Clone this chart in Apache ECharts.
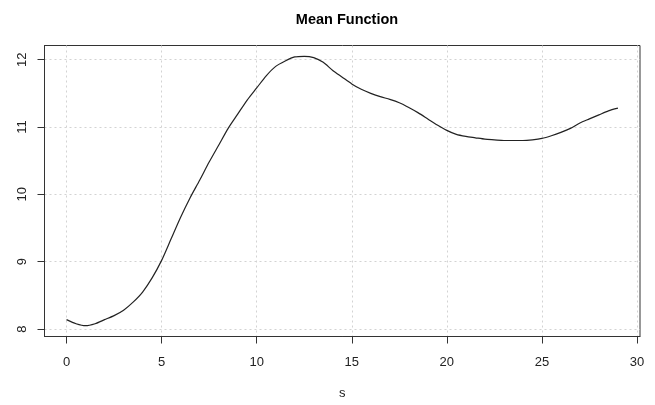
<!DOCTYPE html>
<html lang="en">
<head>
    <meta charset="UTF-8">
    <title>Mean Function</title>
    <script type="text/javascript" src="https://cdn.jsdelivr.net/npm/echarts@6/dist/echarts.min.js"></script>
    <style>
        html, body { margin: 0; padding: 0; background: #fff; }
        #main { width: 655px; height: 405px; }
    </style>
</head>
<body>
<div id="main"></div>
<script type="text/javascript">
    // values
    var s = [0, 0.5, 1, 1.5, 2, 2.5, 3, 3.5, 4, 4.5, 5, 5.5, 6, 6.5, 7, 7.5, 8, 8.5, 9, 9.5,
        10, 10.5, 11, 11.5, 12, 12.5, 13, 13.5, 14, 14.5, 15, 15.5, 16, 16.5, 17, 17.5, 18, 18.5, 19, 19.5,
        20, 20.5, 21, 21.5, 22, 22.5, 23, 23.5, 24, 24.5, 25, 25.5, 26, 26.5, 27, 27.5, 28, 28.5, 29];
    var meanValues = [8.14, 8.08, 8.05, 8.08, 8.14, 8.20, 8.28, 8.40, 8.55, 8.76,
        9.02, 9.34, 9.66, 9.95, 10.21, 10.48, 10.73, 10.98, 11.19, 11.40,
        11.58, 11.76, 11.90, 11.98, 12.04, 12.05, 12.03, 11.96, 11.84, 11.74,
        11.64, 11.56, 11.50, 11.45, 11.41, 11.36, 11.29, 11.21, 11.12, 11.03,
        10.95, 10.89, 10.86, 10.84, 10.82, 10.81, 10.80, 10.80, 10.80, 10.81,
        10.83, 10.87, 10.92, 10.98, 11.06, 11.12, 11.18, 11.24, 11.28];
    var xTicks = [0, 5, 10, 15, 20, 25, 30];
    var yTicks = [8, 9, 10, 11, 12];

    // R style axis range: data range stretched by 4% on each side
    function padRange(arr) {
        var lo = Math.min.apply(null, arr), hi = Math.max.apply(null, arr);
        var d = (hi - lo) * 0.04;
        return [lo - d, hi + d];
    }
    var xr = padRange(s), yr = padRange(meanValues);

    var points = s.map(function (v, i) { return [v, meanValues[i]]; });

    var font = '"Liberation Sans", Arial, Helvetica, sans-serif';
    var dotted = { show: true, lineStyle: { color: '#d3d3d3', type: [2, 3], width: 1 } };

    const myChart = echarts.init(document.getElementById('main'), null, { renderer: 'canvas' });
    myChart.setOption({
        animation: false,
        title: {
            text: 'Mean Function',
            left: 342, top: 7, textAlign: 'center',
            textStyle: { fontFamily: font, fontSize: 14.5, fontWeight: 'bold', color: '#000' }
        },
        grid: {
            left: 44.5, right: 15, top: 45.5, bottom: 68.5,
            outerBoundsMode: 'none', containLabel: false,
            show: true, borderColor: '#333', borderWidth: 1, backgroundColor: 'transparent'
        },
        xAxis: {
            type: 'value', min: xr[0], max: xr[1],
            name: 's', nameLocation: 'middle', nameGap: 50,
            nameTextStyle: { fontFamily: font, fontSize: 13, color: '#222' },
            axisLine: { show: true, onZero: false, lineStyle: { color: '#333' } },
            axisTick: { show: true, length: 7, customValues: xTicks, lineStyle: { color: '#333' } },
            axisLabel: { customValues: xTicks, margin: 19, fontFamily: font, fontSize: 13, color: '#222' },
            splitLine: dotted
        },
        yAxis: {
            type: 'value', min: yr[0], max: yr[1],
            axisLine: { show: true, onZero: false, lineStyle: { color: '#333' } },
            axisTick: { show: true, length: 7, customValues: yTicks, lineStyle: { color: '#333' } },
            axisLabel: { customValues: yTicks, rotate: 90, margin: 16, fontFamily: font, fontSize: 13, color: '#222' },
            splitLine: dotted
        },
        series: [{
            type: 'line',
            data: points,
            showSymbol: false,
            smooth: 0.25,
            lineStyle: { color: '#222', width: 1.2 }
        }]
    });
</script>
</body>
</html>
